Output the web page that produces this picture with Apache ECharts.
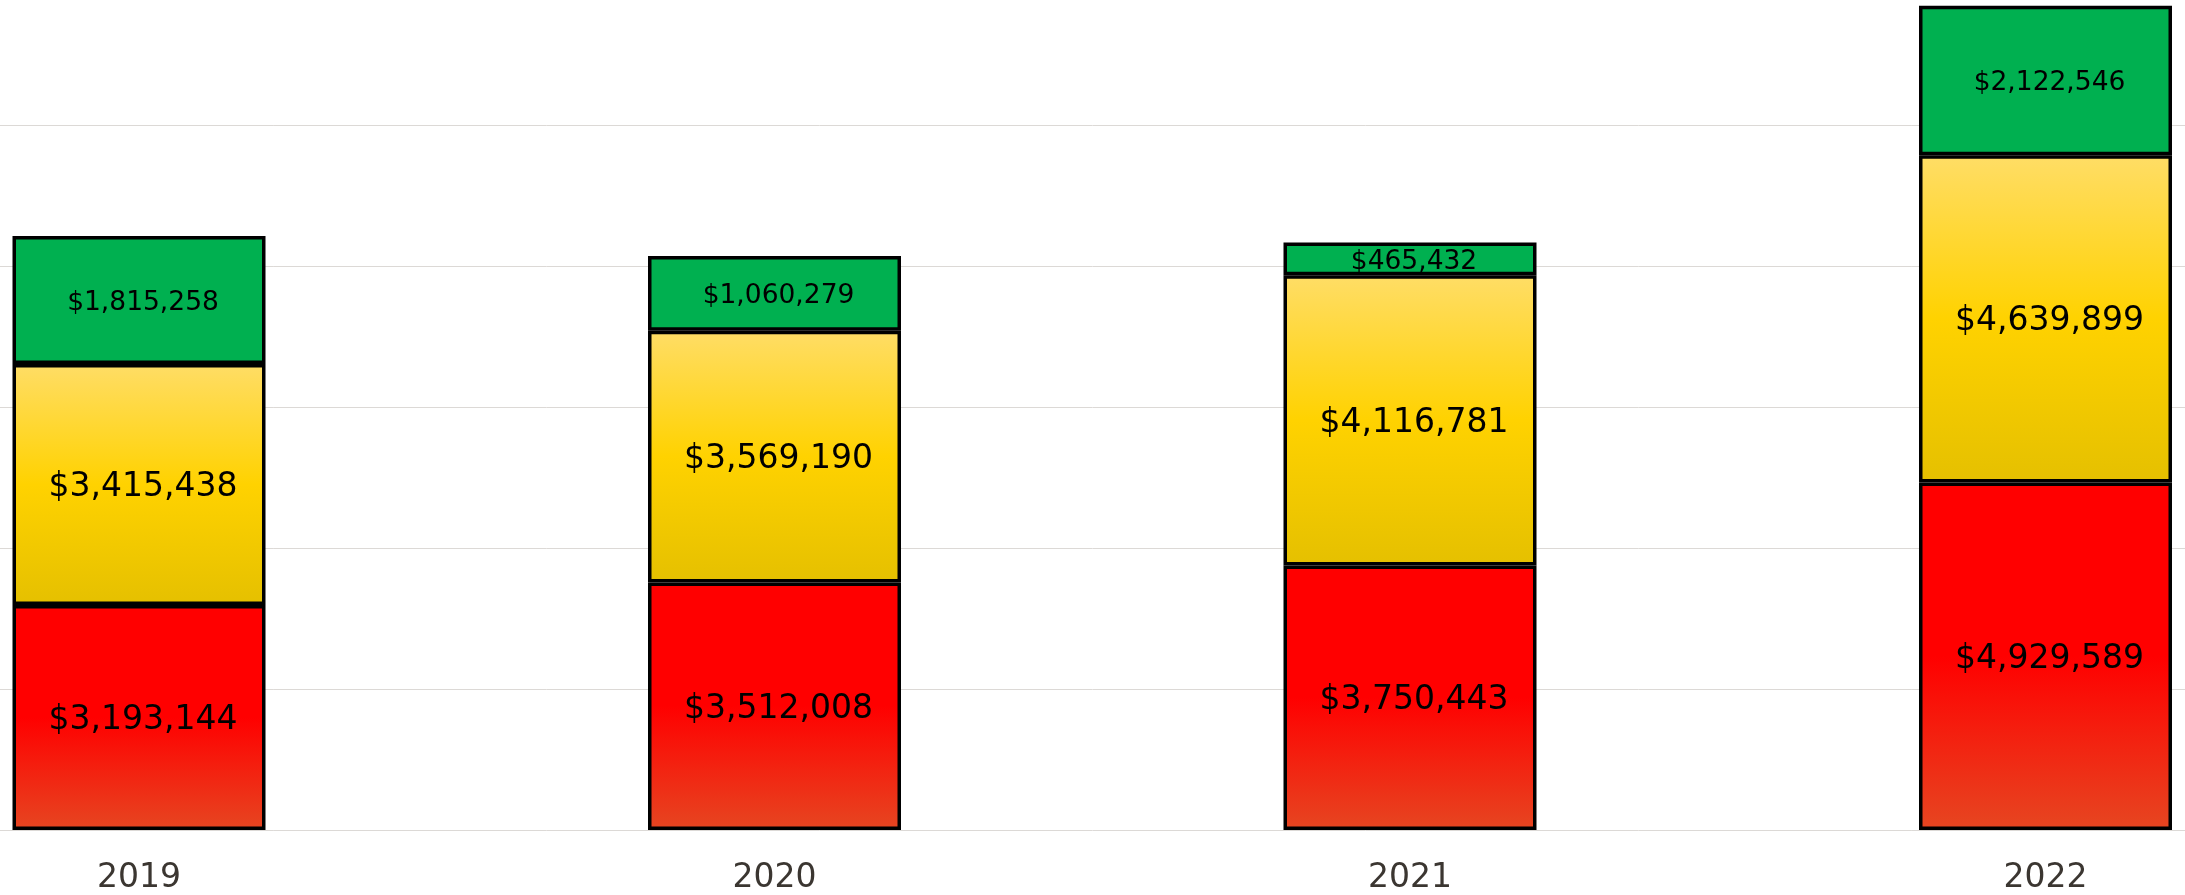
<!DOCTYPE html>
<html>
<head>
<meta charset="utf-8">
<script src="https://cdn.jsdelivr.net/npm/echarts@6/dist/echarts.min.js"></script>
<style>
  html, body { margin: 0; padding: 0; background: #fff; }
  #chart { width: 2185px; height: 895px; }
</style>
</head>
<body>
<div id="chart"></div>
<script>
var years = ['2019', '2020', '2021', '2022'];
var bottomValues = [3193144, 3512008, 3750443, 4929589];
var middleValues = [3415438, 3569190, 4116781, 4639899];
var topValues = [1815258, 1060279, 465432, 2122546];

var FONT = '"DejaVu Sans", sans-serif';

function money(p) {
	return '$' + p.value.toLocaleString('en-US');
}

function grad(stops) {
	return new echarts.graphic.LinearGradient(0, 0, 0, 1, stops);
}

function segLabel(size) {
	return {show: true, position: 'inside', offset: [4, 3], formatter: money, color: '#000', fontFamily: FONT, fontSize: size};
}

var myChart = echarts.init(document.getElementById('chart'));

// grid 0 only carries the full width gridlines (0..10M), bars live in grid 1
// both grids share the same px per dollar: 141px per 2M
var option = {
	animation: false,
	backgroundColor: '#fff',
	grid: [
		{left: 0, right: 0, top: 125, bottom: 65},
		{left: 139, right: 139.5, top: 0, bottom: 65}
	],
	xAxis: [
		{gridIndex: 0, type: 'category', data: years, show: false},
		{
			gridIndex: 1, type: 'category', data: years, boundaryGap: false,
			axisLine: {show: false},
			axisTick: {show: false},
			axisLabel: {color: '#3b3631', fontFamily: FONT, fontSize: 33, margin: 32}
		}
	],
	yAxis: [
		{
			gridIndex: 0, type: 'value', min: 0, max: 10000000, interval: 2000000,
			axisLine: {show: false}, axisTick: {show: false}, axisLabel: {show: false},
			splitLine: {lineStyle: {color: '#dcd9d6', width: 1}}
		},
		{
			gridIndex: 1, type: 'value', min: 0, max: 11773050,
			show: false, splitLine: {show: false}
		}
	],
	series: [
		{
			name: 'Bottom', type: 'bar', stack: 'total', xAxisIndex: 1, yAxisIndex: 1,
			data: bottomValues, barWidth: 253, clip: false,
			itemStyle: {
				color: grad([{offset: 0, color: '#ff0000'}, {offset: 0.5, color: '#ff0000'}, {offset: 1, color: '#e64621'}]),
				borderColor: '#000', borderWidth: 3.5
			},
			label: segLabel(33)
		},
		{
			name: 'Middle', type: 'bar', stack: 'total', xAxisIndex: 1, yAxisIndex: 1,
			data: middleValues, barWidth: 253, clip: false,
			itemStyle: {
				color: grad([{offset: 0, color: '#ffdd66'}, {offset: 0.5, color: '#ffd200'}, {offset: 1, color: '#e5c000'}]),
				borderColor: '#000', borderWidth: 3.5
			},
			label: segLabel(33)
		},
		{
			name: 'Top', type: 'bar', stack: 'total', xAxisIndex: 1, yAxisIndex: 1,
			data: topValues, barWidth: 253, clip: false,
			itemStyle: {color: '#00b050', borderColor: '#000', borderWidth: 3.5},
			label: segLabel(26.5)
		}
	]
};

myChart.setOption(option);
</script>
</body>
</html>
